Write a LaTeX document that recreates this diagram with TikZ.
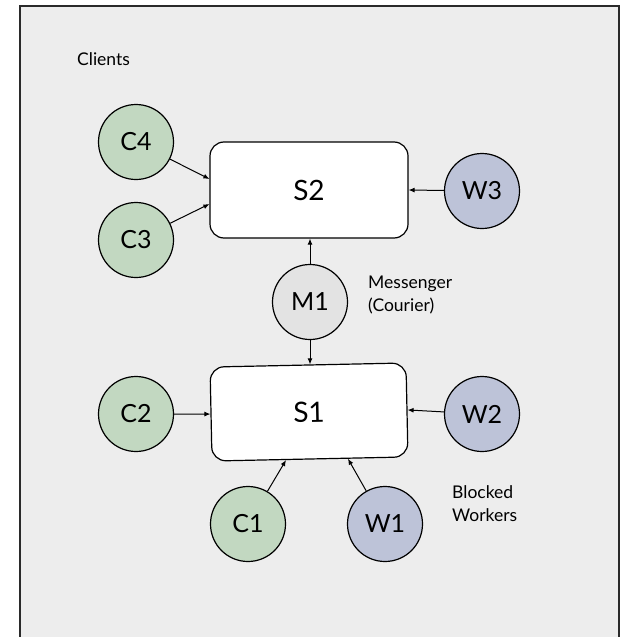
\documentclass[tikz,border=0pt]{standalone}
\usepackage{fontspec}
\setmainfont{Lato}
\usetikzlibrary{arrows.meta,calc}

\definecolor{panelbg}{HTML}{EDEDED}
\definecolor{framecol}{HTML}{2A2A2A}
\definecolor{clientfill}{HTML}{C2D8C1}
\definecolor{workerfill}{HTML}{BDC3D8}
\definecolor{courierfill}{HTML}{E3E3E3}

\tikzset{
  roundnode/.style={circle, draw=black, line width=1.2pt, minimum size=75pt,
    inner sep=0pt, font=\fontsize{25}{28}\selectfont},
  client/.style={roundnode, fill=clientfill},
  worker/.style={roundnode, fill=workerfill},
  courier/.style={roundnode, fill=courierfill},
  server/.style={draw=black, fill=white, line width=1.2pt, rounded corners=14pt,
    minimum width=198pt, minimum height=96pt, inner sep=0pt,
    font=\fontsize{28}{32}\selectfont},
  caption/.style={font=\fontsize{17.5}{23}\selectfont, align=left, inner sep=0pt, anchor=west},
  link/.style={draw=black, line width=1pt, -{Latex[length=6pt,width=5pt]}}
}

\begin{document}
\begin{tikzpicture}[x=1pt,y=-1pt]
  % page area and grey panel
  \clip (0,0) rectangle (629,637);
  \fill[white] (0,0) rectangle (629,637);
  \filldraw[fill=panelbg, draw=framecol, line width=1.5pt] (20,6) rectangle (619,660);

  % captions
  \node[caption] (clients) at (77,59) {Clients};
  \node[caption] (msgcap) at (368,295) {Messenger\\(Courier)};
  \node[caption] (blockcap) at (452,504) {Blocked\\Workers};

  % servers
  \node[server] (S2) at (309,190) {S2};
  \node[server, rotate=1.2, minimum width=196pt, minimum height=94pt] (S1) at (309,412) {S1};

  % clients, workers and the courier
  \node[client] (C4) at (136,142) {C4};
  \node[client] (C3) at (136,240) {C3};
  \node[client] (C2) at (136,414) {C2};
  \node[client] (C1) at (248,524) {C1};
  \node[worker] (W3) at (482,191) {W3};
  \node[worker] (W2) at (482,414) {W2};
  \node[worker] (W1) at (385,524) {W1};
  \node[courier] (M1) at (310,302) {M1};

  % connections
  \draw[link] (C4) -- ([yshift=11pt]S2.west);
  \draw[link] (C3) -- ([yshift=-14pt]S2.west);
  \draw[link] (W3) -- (S2.east);
  \draw[link] (M1) -- (M1 |- S2.south);
  \draw[link] (M1) -- (M1 |- S1.north);
  \draw[link] (C2) -- (S1.west);
  \draw[link] (W2) -- (S1.east);
  \draw[link] (C1) -- ($(S1.south)!24pt!(S1.south west)$);
  \draw[link] (W1) -- ($(S1.south)!38pt!(S1.south east)$);
\end{tikzpicture}
\end{document}
